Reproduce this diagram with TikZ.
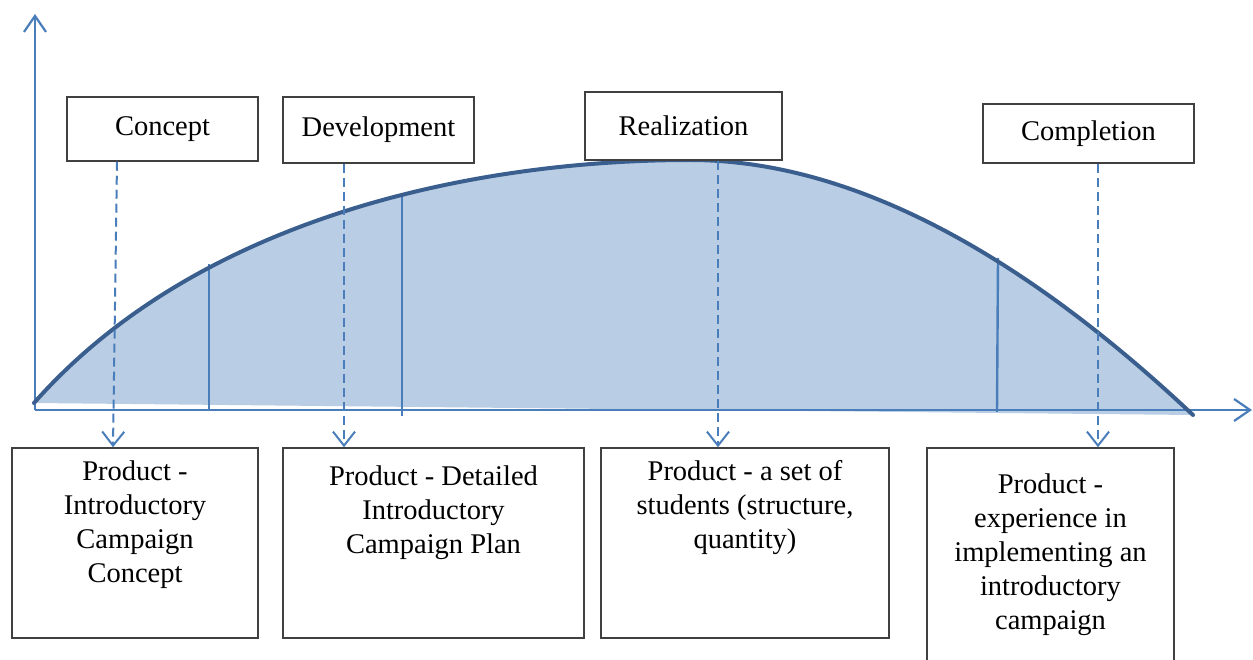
\documentclass[tikz,border=0pt]{standalone}
\usepackage{fontspec}
\setmainfont{Liberation Serif}
\usetikzlibrary{arrows.meta}
\definecolor{fillblue}{HTML}{B9CDE5}
\definecolor{curveblue}{HTML}{3A5F8F}
\definecolor{axisblue}{HTML}{4A7EBB}
\definecolor{boxgray}{HTML}{404040}
\begin{document}
\begin{tikzpicture}[x=1pt,y=-1pt,
  axisline/.style={draw=axisblue, line width=2.2pt, -{Straight Barb[length=16pt,width=22pt,line width=2.2pt]}},
  divider/.style={draw=axisblue, line width=2.4pt},
  curveline/.style={draw=curveblue, line width=4pt, line cap=round},
  dasharrow/.style={draw=axisblue, line width=2pt, dash pattern=on 9pt off 5pt, -{Straight Barb[length=14pt,width=22pt,line width=2pt]}},
  topbox/.style={draw=boxgray, line width=1.5pt, fill=white, inner sep=0pt, font=\fontsize{28.5}{34}\selectfont},
  botbox/.style={draw=boxgray, line width=1.5pt, fill=white, inner sep=0pt},
  btext/.style={align=center, inner sep=0pt, anchor=north, font=\fontsize{28.5}{34}\selectfont}
]
\useasboundingbox (0,0) rectangle (1253,660);
\fill[white] (0,0) rectangle (1253,660);

\coordinate (S) at (34,403);
\coordinate (P) at (690,160);
\coordinate (E) at (1193,415);

% filled area
\fill[fillblue] (S) .. controls (200,215) and (480,160) .. (P)
  .. controls (880,160) and (1060,290) .. (E) -- cycle;

% dividers
\draw[divider] (209,264) -- (209,410);
\draw[divider] (402,193) -- (402,416);
\draw[divider] (998,258) -- (997,412);

% axes
\coordinate (O) at (35,410);
\coordinate (Ytop) at (35,14);
\coordinate (Xend) at (1252,410);
\draw[axisline] (O) -- (Ytop);
\draw[axisline] (O) -- (Xend);

% curve
\draw[curveline] (S) .. controls (200,215) and (480,160) .. (P)
  .. controls (880,160) and (1060,290) .. (E);

% top boxes
\node[topbox, minimum width=191pt, minimum height=64pt] (c1) at (162.5,129) {Concept};
\node[topbox, minimum width=191pt, minimum height=66pt] (c2) at (378.5,130) {Development};
\node[topbox, minimum width=197pt, minimum height=68pt] (c3) at (683.5,126) {Realization};
\node[topbox, minimum width=211pt, minimum height=59pt] (c4) at (1088.5,133.5) {Completion};

% bottom boxes
\node[botbox, minimum width=246pt, minimum height=190pt] (b1) at (135,543) {};
\node[botbox, minimum width=301pt, minimum height=190pt] (b2) at (433.5,543) {};
\node[botbox, minimum width=288pt, minimum height=190pt] (b3) at (745,543) {};
\node[botbox, minimum width=247pt, minimum height=240pt] (b4) at (1050.5,568) {};

\node[btext] (t1) at ([yshift=-13pt]b1.north) {Product -\\Introductory\\Campaign\\Concept};
\node[btext] (t2) at ([yshift=-18pt]b2.north) {Product - Detailed\\Introductory\\Campaign Plan};
\node[btext] (t3) at ([yshift=-13pt]b3.north) {Product - a set of\\students (structure,\\quantity)};
\node[btext] (t4) at ([yshift=-26pt]b4.north) {Product -\\experience in\\implementing an\\introductory\\campaign};

% dashed arrows
\draw[dasharrow] ([xshift=-45.5pt]c1.south) -- ([xshift=-22pt]b1.north);
\draw[dasharrow] ([xshift=-34.5pt]c2.south) -- ([xshift=-89.5pt]b2.north);
\draw[dasharrow] ([xshift=34.5pt]c3.south) -- ([xshift=-27pt]b3.north);
\draw[dasharrow] ([xshift=9.5pt]c4.south) -- ([xshift=47.5pt]b4.north);
\end{tikzpicture}
\end{document}
